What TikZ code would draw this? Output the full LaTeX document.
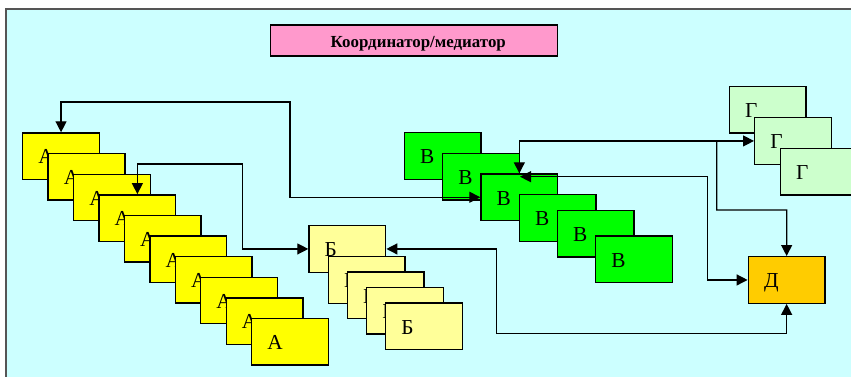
\documentclass[tikz,border=0pt]{standalone}
\usepackage{fontspec}
\setmainfont{Liberation Serif}
\usetikzlibrary{arrows.meta}
\definecolor{bgc}{HTML}{CCFFFF}
\definecolor{cA}{HTML}{FFFF00}
\definecolor{cB}{HTML}{FFFF99}
\definecolor{cV}{HTML}{00FF00}
\definecolor{cG}{HTML}{CCFFCC}
\definecolor{cD}{HTML}{FFCC00}
\definecolor{cP}{HTML}{FF99CC}
\definecolor{frm}{HTML}{555555}
\tikzset{
  boxst/.style={draw=black, line width=1.4pt, inner sep=0pt, minimum width=76.7pt, minimum height=46.5pt},
  lbl/.style={inner sep=0pt, font=\fontsize{21.3}{24}\selectfont},
  conn/.style={draw=black, line width=1.3pt},
  tipst/.style={-{Triangle[length=11pt,width=11pt]}},
  bothst/.style={{Triangle[length=11pt,width=11pt]}-{Triangle[length=11pt,width=11pt]}},
}
\newcommand\mybx[5]{%
  \pgfmathsetmacro\bxx{#2}%
  \pgfmathsetmacro\bxy{#3}%
  \node[boxst, fill=#4] (#1) at ({\bxx+38.35}, {\bxy+23.25}) {};
  \node[lbl, anchor=base west] at ({\bxx+15.5}, {\bxy+31}) {#5};
}
\begin{document}
\begin{tikzpicture}[x=1pt,y=-1pt]
\useasboundingbox (0,0) rectangle (851,377);
\clip (0,0) rectangle (851,377);
\fill[white] (0,0) rectangle (851,377);
\draw[draw=frm, line width=1.5pt, fill=bgc] (6,9) rectangle (880,400);
% coordinator
\node[draw=black, line width=1.4pt, fill=cP, minimum width=287pt, minimum height=31pt, inner sep=0pt] (P) at (414.2,40.5) {};
\node[inner sep=0pt, anchor=base, font=\bfseries\fontsize{16.9}{19}\selectfont] (Pt) at (418.3,47.8) {Координатор/медиатор};
% A stack
\foreach \i in {1,...,10} {
  \mybx{A\i}{22.7+25.44*(\i-1)}{133+20.6*(\i-1)}{cA}{А}
}
% B stack
\mybx{B1}{309}{225.7}{cB}{Б}
\mybx{B2}{328.3}{256.7}{cB}{Б}
\mybx{B3}{347.3}{272}{cB}{Б}
\mybx{B4}{366.7}{287.5}{cB}{Б}
\mybx{B5}{385.7}{303}{cB}{Б}
% V stack
\mybx{V1}{404.3}{132.7}{cV}{В}
\mybx{V2}{442.7}{153.3}{cV}{В}
\mybx{V3}{481}{174}{cV}{В}
\mybx{V4}{519.3}{194.7}{cV}{В}
\mybx{V5}{557.3}{210.3}{cV}{В}
\mybx{V6}{595.7}{236}{cV}{В}
% G stack
\mybx{G1}{729.3}{86.7}{cG}{Г}
\mybx{G2}{754.7}{117.7}{cG}{Г}
\mybx{G3}{780.3}{148.3}{cG}{Г}
% D
\mybx{D}{748.3}{256.7}{cD}{Д}
% helper coordinates
\coordinate (k1) at (290,102);
\coordinate (k2) at (242.7,164);
\coordinate (k3) at (496.7,333.7);
\coordinate (j1) at (716.7,141);
\coordinate (k4) at (786.65,210);
\coordinate (p5) at (520,176.7);
\coordinate (k5) at (707.7,176.7);
% connectors
\draw[conn, bothst] (V3.west) -| (k1) -| (A1.north);
\draw[conn, bothst] (A4.north) |- (k2) |- (B1.west);
\draw[conn, bothst] (B1.east) -| (k3) -| (D.south);
\draw[conn, bothst] (V3.north) |- (G2.west);
\draw[conn, tipst] (j1) |- (k4) -- (D.north);
\draw[conn, bothst] (p5) -- (k5) |- (D.west);
\end{tikzpicture}
\end{document}
